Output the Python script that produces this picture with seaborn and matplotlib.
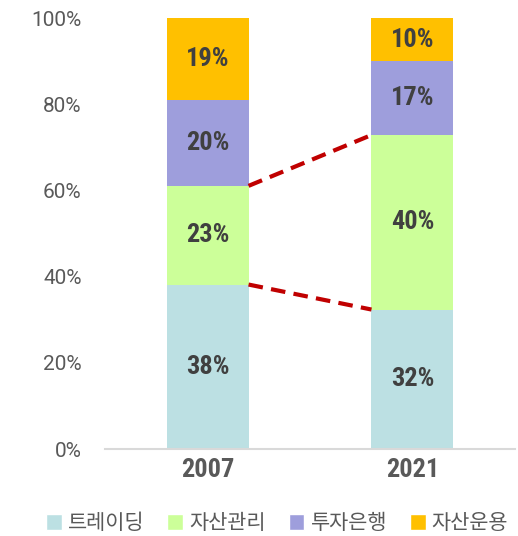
import numpy as np
import pandas as pd
import matplotlib
matplotlib.use("Agg")
import matplotlib.pyplot as plt
import seaborn as sns
from matplotlib.patches import Patch

years = ["2007", "2021"]
segments = ["트레이딩", "자산관리", "투자은행", "자산운용"]
trading = [38.2, 32.4]
wealth = [22.9, 40.5]
ib = [19.9, 17.1]
am = [19.0, 10.0]
labels_2007 = ["38%", "23%", "20%", "19%"]
labels_2021 = ["32%", "40%", "17%", "10%"]
colors = ["#BCE0E3", "#CCFF99", "#9E9EDC", "#FFC000"]

sns.set_theme(style="white")
plt.rcParams['font.family'] = ['Noto Sans CJK KR', 'DejaVu Sans']

df = pd.DataFrame({"year": years, "트레이딩": trading, "자산관리": wealth,
                   "투자은행": ib, "자산운용": am})
cum = df[segments].cumsum(axis=1)
cum["year"] = df["year"]

fig = plt.figure(figsize=(5.18, 5.36), dpi=100)
ax = fig.add_axes([0.203, 0.162, 0.791, 0.804])

# draw cumulative totals from the top segment down so they stack
for seg, col in reversed(list(zip(segments, colors))):
    sns.barplot(data=cum, x="year", y=seg, color=col, width=0.4,
                saturation=1, linewidth=0, ax=ax)

cond = ["Roboto Condensed", "Roboto", "DejaVu Sans"]

# value labels
all_labels = [labels_2007, labels_2021]
for i in range(len(years)):
    bottom = 0
    for j, seg in enumerate(segments):
        h = df[seg][i]
        ax.text(i, bottom + h / 2, all_labels[i][j], ha="center", va="center",
                fontsize=19, fontweight="bold", color="#404040", family=cond)
        bottom += h

# dashed connectors
for seg in ["트레이딩", "자산관리"]:
    ax.plot([0.2, 0.8], [cum[seg][0], cum[seg][1]], ls=(0, (3.5, 2)),
            color="#C00000", lw=3, solid_capstyle="butt", zorder=5)

ax.set_xlim(-0.5, 1.5)
ax.set_ylim(0, 100)
ax.set_yticks(np.arange(0, 101, 20))
ax.set_yticklabels([f"{v}%" for v in range(0, 101, 20)], fontsize=15,
                   color="#595959", family=["Roboto", "DejaVu Sans"])
ax.tick_params(axis="y", length=0, pad=17)
ax.tick_params(axis="x", length=0, pad=6)
for lab in ax.get_xticklabels():
    lab.set_fontsize(19)
    lab.set_fontweight("bold")
    lab.set_color("#595959")
    lab.set_family(cond)
ax.set_xlabel("")
ax.set_ylabel("")
for s in ["top", "right", "left"]:
    ax.spines[s].set_visible(False)
ax.spines["bottom"].set_color("#D9D9D9")
ax.spines["bottom"].set_linewidth(1.5)

handles = [Patch(facecolor=c, label=s) for s, c in zip(segments, colors)]
fig.legend(handles=handles, loc="center", bbox_to_anchor=(0.535, 0.024),
           ncol=4, frameon=False, fontsize=15, handlelength=0.75,
           handleheight=0.75, handletextpad=0.3, columnspacing=1.1,
           labelcolor="#595959")

fig.savefig("out.png", dpi=100)
